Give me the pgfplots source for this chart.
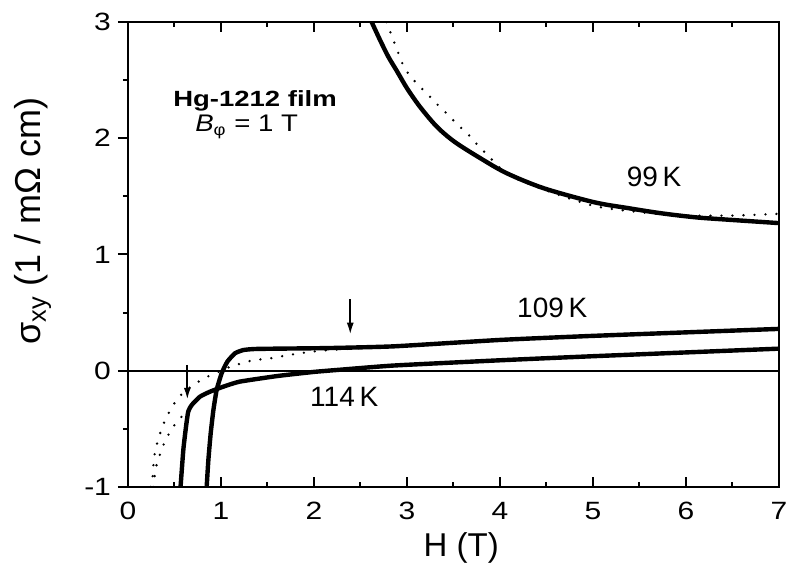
\documentclass[border=0pt]{standalone}
\usepackage{fontspec}
\setmainfont{Liberation Sans}
\newfontfamily\tickfont{Liberation Sans}[FakeStretch=1.2]
\usepackage{graphicx}
\usepackage{pgfplots}
\pgfplotsset{compat=1.18}
\usetikzlibrary{arrows.meta}

\begin{document}
\begin{tikzpicture}
\begin{axis}[
  at={(0,0)}, anchor=south west,
  scale only axis, width=325.5pt, height=232.5pt,
  xmin=0, xmax=7, ymin=-1, ymax=3,
  xtick={0,...,7}, ytick={-1,0,1,2,3},
  minor x tick num=1, minor y tick num=1,
  xtick pos=both, ytick pos=left,
  xtick align=inside, ytick align=outside,
  major tick length=5pt, minor tick length=2.5pt,
  axis line style={line width=1.2pt},
  every tick/.style={black, line width=1pt},
  /pgf/number format/assume math mode=true,
  ticklabel style={font=\tickfont\fontsize{12.5}{13}\selectfont},
  xticklabel style={yshift=-4pt},
  xlabel={H (T)},
  ylabel={σ\textsubscript{xy} (1 / mΩ cm)},
  xlabel style={font=\fontsize{16.5}{18}\selectfont, at={(axis description cs:0.512,-0.131)}, anchor=center},
  ylabel style={font=\fontsize{18}{19}\selectfont, at={(axis description cs:-0.146,0.572)}, anchor=center},
  dotline/.style={black, line width=1.3pt, line cap=round, dash pattern=on 0pt off 5.5pt},
  solidline/.style={black, line width=2.2pt, line join=round},
]
% zero line
\addplot[black, line width=0.9pt] coordinates {(0,0) (7,0)};

% 99 K fit (dotted)
\addplot[dotline, smooth, tension=0.5] coordinates {
  (2.78,3.0) (2.87,2.81) (2.95,2.645) (3.01,2.56)
  (3.11,2.467) (3.22,2.38) (3.32,2.295) (3.43,2.21) (3.54,2.12) (3.65,2.04)
  (3.75,1.95) (3.86,1.86) (3.97,1.77) (4.1,1.68) (4.5,1.55) (5.0,1.42)
  (5.37,1.376) (5.7,1.35) (6.0,1.335) (6.5,1.335) (7.0,1.35)
};
% 99 K data
\addplot[solidline, smooth, tension=0.5] coordinates {
  (2.62,3.0) (2.71,2.845) (2.80,2.70) (2.89,2.58) (3.0,2.43) (3.14,2.27)
  (3.32,2.10) (3.51,1.97) (3.785,1.83) (4.07,1.70) (4.47,1.57)
  (5.01,1.45) (5.37,1.40) (5.73,1.355) (6.1,1.32) (6.44,1.30) (7.0,1.27)
};

% 109 K fit (dotted)
\addplot[dotline] coordinates {
  (0.245,-1.0) (0.265,-0.917) (0.272,-0.83) (0.28,-0.745) (0.30,-0.66)
  (0.333,-0.57) (0.369,-0.48) (0.42,-0.39) (0.48,-0.30) (0.567,-0.21)
  (0.67,-0.14) (0.774,-0.086) (0.889,-0.037) (1.0,0.0) (1.1,0.035)
  (1.22,0.064) (1.35,0.092) (1.46,0.10) (1.56,0.11) (1.67,0.127)
  (1.78,0.141) (1.92,0.159) (2.1,0.175) (2.4,0.19) (2.6,0.2)
};
% 114 K fit (dotted)
\addplot[dotline] coordinates {
  (0.27,-1.0) (0.30,-0.83) (0.333,-0.745) (0.369,-0.66) (0.423,-0.567)
  (0.487,-0.48) (0.577,-0.395) (0.66,-0.33)
};

% 109 K data
\addplot[solidline, smooth, tension=0.3] coordinates {
  (0.846,-1.0) (0.864,-0.77) (0.889,-0.54) (0.918,-0.34) (0.953,-0.166)
  (1.007,-0.022) (1.068,0.078) (1.15,0.15) (1.24,0.178) (1.36,0.187)
  (1.6,0.19) (2.15,0.195) (2.86,0.21) (4.0,0.265) (5.0,0.30) (7.0,0.36)
};
% 114 K data
\addplot[solidline, smooth, tension=0.3] coordinates {
  (0.565,-1.0) (0.595,-0.68) (0.624,-0.48) (0.648,-0.35) (0.685,-0.295)
  (0.774,-0.223) (0.882,-0.18) (1.025,-0.137) (1.20,-0.094) (1.61,-0.045)
  (2.0,-0.01) (2.3,0.01) (2.86,0.045) (4.0,0.09) (5.0,0.125) (7.0,0.19)
};

% arrows
\draw[black, line width=1pt, -{Latex[length=6pt,width=3.5pt]}] (axis cs:0.638,0.05) -- (axis cs:0.638,-0.25);
\draw[black, line width=1pt, -{Latex[length=6pt,width=3.5pt]}] (axis cs:2.39,0.615) -- (axis cs:2.39,0.31);

% labels
\node[anchor=base, font=\bfseries\fontsize{11}{12}\selectfont] at (axis cs:1.366,2.271) {\scalebox{1.25}[1]{Hg-1212 film}};
\node[anchor=base, font=\fontsize{12}{13}\selectfont] at (axis cs:1.276,2.056) {\scalebox{1.15}[1]{\textit{B}\textsubscript{φ} = 1 T}};
\node[anchor=base, font=\fontsize{14}{16}\selectfont] at (axis cs:5.656,1.583) {99\,K};
\node[anchor=base, font=\fontsize{14}{16}\selectfont] at (axis cs:4.562,0.454) {109\,K};
\node[anchor=base, font=\fontsize{14}{16}\selectfont] at (axis cs:2.325,-0.306) {114\,K};
\end{axis}
\pgfresetboundingbox
\path[use as bounding box] (-64pt,-44.5pt) rectangle (330pt,243.5pt);
\end{tikzpicture}
\end{document}
